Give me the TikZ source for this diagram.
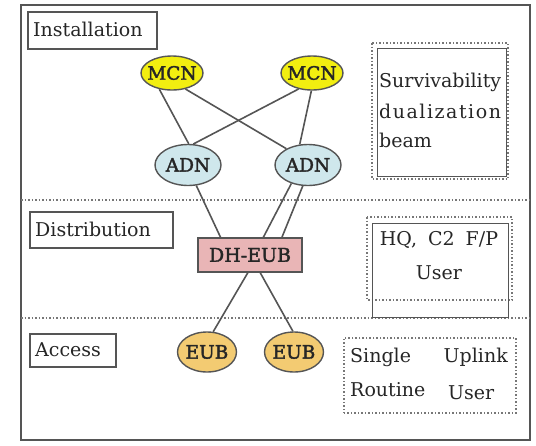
\documentclass[tikz,border=0pt]{standalone}
\usepackage{fontspec}
\setmainfont{DejaVu Serif}
\usetikzlibrary{shapes.geometric}
\definecolor{edge}{HTML}{555555}
\definecolor{mcnfill}{HTML}{F2EE10}
\definecolor{adnfill}{HTML}{CFE7EC}
\definecolor{dhfill}{HTML}{E9B5B6}
\definecolor{eubfill}{HTML}{F3CB72}
\definecolor{txt}{HTML}{262626}
\tikzset{
  every node/.style={text=txt, font=\fontsize{19}{22}\selectfont},
  ell/.style={ellipse, draw=edge, line width=1.4pt, inner sep=-4pt, font=\fontsize{18.5}{22}\selectfont\addfontfeatures{FakeBold=2}},
  mcnnode/.style={ell, fill=mcnfill, minimum width=62pt, minimum height=34pt},
  adnnode/.style={ell, fill=adnfill, minimum width=66pt, minimum height=41pt},
  eubnode/.style={ell, fill=eubfill, minimum width=59pt, minimum height=40pt},
  dhnode/.style={rectangle, draw=edge, line width=1.4pt, fill=dhfill, minimum width=104pt, minimum height=34pt, inner sep=0pt, font=\fontsize{19}{22}\selectfont\addfontfeatures{FakeBold=2}},
  layerbox/.style={rectangle, draw=edge, line width=1.5pt, inner sep=0pt, anchor=north west},
  conn/.style={draw=edge, line width=1.6pt},
  sep/.style={draw=edge!80, line width=1.5pt, dotted},
  plain/.style={inner sep=0pt},
}
\begin{document}
\begin{tikzpicture}[x=1pt, y=-1pt]
\useasboundingbox (0,0) rectangle (536,445);
% outer frame
\draw[edge, line width=1.7pt] (21,5) rectangle (530,440);
% layer separators
\draw[sep] (21,200) -- (530,200);
\draw[sep] (21,318) -- (530,318);
% layer labels
\node[layerbox, minimum width=129pt, minimum height=37pt] (linst) at (27,11) {};
\node[plain, anchor=west] (tinst) at (33,29.5) {Installation};
\node[layerbox, minimum width=143pt, minimum height=36pt] (ldist) at (29,211) {};
\node[plain, anchor=west] (tdist) at (35,229) {Distribution};
\node[layerbox, minimum width=86pt, minimum height=33pt] (lacc) at (29,333) {};
\node[plain, anchor=west] (tacc) at (35,349.5) {Access};
% network nodes
\node[mcnnode] (mcn1) at (172,73) {MCN};
\node[mcnnode] (mcn2) at (312,73) {MCN};
\node[adnnode] (adn1) at (188,165) {ADN};
\node[adnnode] (adn2) at (308,165) {ADN};
\node[dhnode] (dh) at (250,255) {DH-EUB};
\node[eubnode] (eub1) at (207,352) {EUB};
\node[eubnode] (eub2) at (294,352) {EUB};
% connectors
\draw[conn] (mcn1.232) -- (adn1.88);
\draw[conn] (mcn1.310) -- (adn2.143);
\draw[conn] (mcn2.230) -- (adn1.76);
\draw[conn] (mcn2.268) -- (adn2.112);
\draw[conn] (adn1.292) -- (dh.149);
\draw[conn] (adn2.228) -- (dh.53);
\draw[conn] (adn2.256) -- (dh.29);
\draw[conn] (dh.263) -- (eub1.73);
\draw[conn] (dh.300) -- (eub2.93);
% right-hand boxes
\draw[edge!80, line width=1.5pt, dotted] (372,43) rectangle (508,179);
\node[rectangle, draw=edge, line width=1.4pt, minimum width=129pt, minimum height=128pt, anchor=north west, inner sep=0pt] (surv) at (377,48) {};
\node[plain, anchor=west] (s1) at (379,82) {Survivability};
\node[plain, anchor=west] (s2) at (379,111) {\addfontfeatures{LetterSpace=8}dualization};
\node[plain, anchor=west] (s3) at (379,140) {beam};
\draw[edge!80, line width=1.5pt, dotted] (367,217) rectangle (512,300);
\node[rectangle, draw=edge, line width=1.4pt, minimum width=136pt, minimum height=94pt, anchor=north west, inner sep=0pt] (hq) at (372,223) {};
\node[plain] (h1) at (439,240) {HQ,\hspace{11pt}C2\hspace{11pt}F/P};
\node[plain] (h2) at (439,273) {User};
\node[rectangle, draw=edge!80, line width=1.5pt, dotted, minimum width=172pt, minimum height=75pt, anchor=north west, inner sep=0pt] (single) at (343,337) {};
\node[plain, anchor=west] (u1) at (350,357) {Single};
\node[plain, anchor=east] (u2) at (508,357) {Uplink};
\node[plain, anchor=west] (u3) at (350,390) {Routine};
\node[plain, anchor=west] (u4) at (448,393) {User};
\end{tikzpicture}
\end{document}
